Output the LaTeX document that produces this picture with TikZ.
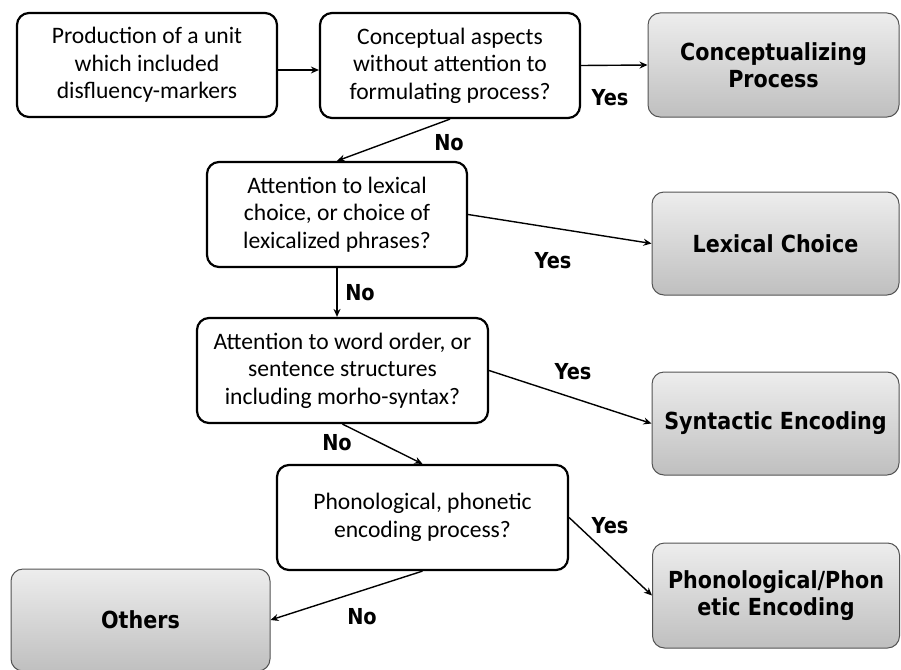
\documentclass[tikz,border=0pt]{standalone}
\usepackage{fontspec}
\setmainfont{Carlito}
\newfontfamily\labelfont{DejaVu Sans}[FakeStretch=0.88]
\usetikzlibrary{arrows.meta}
\begin{document}
\begin{tikzpicture}[x=1pt,y=-1pt]
 \tikzset{question/.style={draw, line width=2.2pt, rounded corners=12pt, align=center, inner sep=0pt, font=\fontsize{23.6}{27.5}\selectfont},
  result/.style={draw=gray!65!black, line width=1pt, rounded corners=12pt, top color=gray!14, bottom color=gray!50, align=center, inner sep=0pt, minimum width=247pt, minimum height=103pt, font=\labelfont\bfseries\fontsize{23.5}{27}\selectfont},
  answer/.style={font=\labelfont\bfseries\fontsize{22}{26}\selectfont},
  arrow/.style={line width=1.4pt, -{Stealth[length=8pt,width=7pt]}}}
  \useasboundingbox (0,0) rectangle (901,669);
  \node[question, minimum width=260pt, minimum height=104pt] (start) at (147,65) {Production of a unit\\which included\\disfluency-markers};
  \node[question, minimum width=260pt, minimum height=105pt] (q1) at (450,65.5) {Conceptual aspects\\without attention to\\formulating process?};
  \node[result, minimum width=251pt, minimum height=104pt] (concept) at (773.5,65) {Conceptualizing\\Process};
  \node[question, minimum width=260pt, minimum height=105pt] (q2) at (337,214.5) {Attention to lexical\\choice, or choice of\\lexicalized phrases?};
  \node[result] (lexical) at (775.5,243.5) {Lexical Choice};
  \node[question, minimum width=291pt, minimum height=105pt] (q3) at (342.5,370.5) {Attention to word order, or\\sentence structures\\including morho-syntax?};
  \node[result] (syntactic) at (775.5,423.5) {Syntactic Encoding};
  \node[question, minimum width=291pt, minimum height=105pt] (q4) at (422.5,517.5) {Phonological, phonetic\\encoding process?};
  \node[result, minimum height=105pt] (phon) at (776,595.5) {Phonological/Phon\\etic Encoding};
  \node[result, minimum width=259pt, minimum height=102pt] (others) at (140.5,620) {Others};
  \draw[arrow] ([yshift=-5pt]start.east) -- ([yshift=-5pt]start.east -| q1.west);
  \draw[arrow] (q1.east) -- (concept.west);
  \draw[arrow] (q1.south) -- (q2.north);
  \draw[arrow] (q2.east) -- (lexical.west);
  \draw[arrow] (q2.south) -- (q2.south |- q3.north);
  \draw[arrow] (q3.east) -- (syntactic.west);
  \draw[arrow] (q3.south) -- (q4.north);
  \draw[arrow] (q4.east) -- (phon.west);
  \draw[arrow] (q4.south) -- (others.east);
  \node[answer] (yes1) at (610,98) {Yes};
  \node[answer] (no1) at (449,143) {No};
  \node[answer] (yes2) at (553,261) {Yes};
  \node[answer] (no2) at (360,293) {No};
  \node[answer] (yes3) at (573,372) {Yes};
  \node[answer] (no3) at (337,443) {No};
  \node[answer] (yes4) at (610,526) {Yes};
  \node[answer] (no4) at (362,617) {No};
\end{tikzpicture}
\end{document}
